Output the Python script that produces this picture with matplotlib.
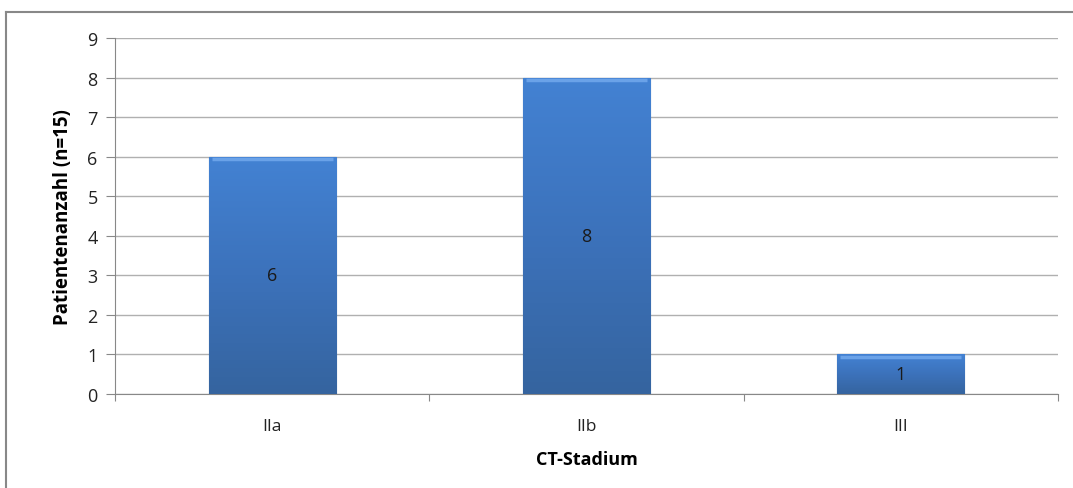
import numpy as np
import matplotlib.pyplot as plt
from matplotlib.colors import LinearSegmentedColormap
from matplotlib.lines import Line2D

plt.rcParams["font.family"] = ["Open Sans", "DejaVu Sans"]

categories = ["IIa", "IIb", "III"]
counts = [6, 8, 1]

y_ticks = list(range(0, 10))

bar_cmap = LinearSegmentedColormap.from_list("bar", ["#35649f", "#3c72bb", "#4382d3"])


def gradient_bar(ax, bar):
    x0, y0 = bar.get_x(), bar.get_y()
    w, h = bar.get_width(), bar.get_height()
    grad = np.linspace(0, 1, 256).reshape(-1, 1)
    im = ax.imshow(grad, cmap=bar_cmap, origin="lower", aspect="auto",
                   extent=[x0, x0 + w, y0, y0 + h], zorder=3)
    im.set_clip_path(bar)
    # light bevel at the top edge
    ax.plot([x0 + 0.01, x0 + w - 0.01], [y0 + h - 0.06, y0 + h - 0.06],
            color="#6aa2e8", linewidth=2.5, zorder=4, solid_capstyle="butt")


fig = plt.figure(figsize=(10.73, 4.89), dpi=100)
ax = fig.add_axes([0.1072, 0.1922, 0.8788, 0.728])

x = np.arange(len(categories))
bars = ax.bar(x, counts, width=0.405, color="#3d74c2", edgecolor="#2c5288",
              linewidth=0.8, zorder=2)
for b in bars:
    gradient_bar(ax, b)

for xi, v in zip(x, counts):
    ax.text(xi, v / 2, str(v), ha="center", va="center", fontsize=13,
            color="#1a1a1a", zorder=5)

ax.set_xlim(-0.5, len(categories) - 0.5)
ax.set_ylim(0, 9)
ax.set_yticks(y_ticks)
ax.tick_params(axis="y", direction="out", length=6.5, width=0.8, color="#888888",
               labelsize=13, labelcolor="#222222", pad=6)
ax.grid(axis="y", color="#b0b0b0", linewidth=1.0, zorder=0)
ax.set_axisbelow(True)

# category labels centred, tick marks on boundaries
ax.set_xticks(np.arange(-0.5, len(categories), 1.0))
ax.set_xticklabels([])
ax.tick_params(axis="x", which="major", direction="out", length=5, width=0.8,
               color="#888888")
ax.set_xticks(x, minor=True)
ax.set_xticklabels(categories, minor=True)
ax.tick_params(axis="x", which="minor", length=0, labelsize=12.5,
               labelcolor="#222222", pad=17)

for side in ["top", "right"]:
    ax.spines[side].set_visible(False)
ax.spines["left"].set_color("#888888")
ax.spines["bottom"].set_color("#888888")
ax.spines["left"].set_linewidth(0.8)
ax.spines["bottom"].set_linewidth(0.8)

ax.set_ylabel("Patientenanzahl (n=15)", fontsize=13.5, fontweight="bold",
              labelpad=10)
ax.set_xlabel("CT-Stadium", fontsize=13, fontweight="bold", labelpad=12)

# outer chart frame (top and left only, as in the source)
fig.add_artist(Line2D([0.0056, 1.0], [0.9734, 0.9734], transform=fig.transFigure,
                      color="#888888", linewidth=1.5))
fig.add_artist(Line2D([0.0056, 0.0056], [0.0, 0.9734], transform=fig.transFigure,
                      color="#888888", linewidth=1.5))

fig.savefig("out.png", dpi=100)
